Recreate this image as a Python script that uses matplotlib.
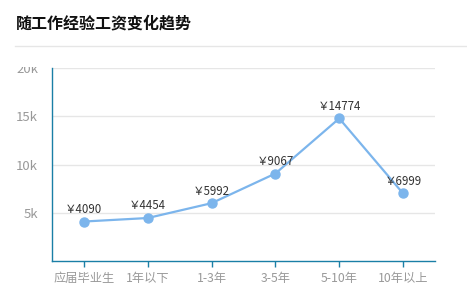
import matplotlib
matplotlib.use('Agg')
import matplotlib.pyplot as plt
from matplotlib.patches import Rectangle
from matplotlib.lines import Line2D

plt.rcParams['font.family'] = ['Noto Sans CJK SC', 'DejaVu Sans']

categories = ['应届毕业生', '1年以下', '1-3年', '3-5年', '5-10年', '10年以上']
salaries = [4090, 4454, 5992, 9067, 14774, 6999]
yticks = [5000, 10000, 15000, 20000]
ytick_labels = ['5k', '10k', '15k', '20k']

line_color = '#7cb5ec'
axis_color = '#1a7fa6'
grid_color = '#e6e6e6'
tick_label_color = '#999999'

fig = plt.figure(figsize=(4.67, 2.9), dpi=100)
ax = fig.add_axes([52 / 467, 29 / 290, 383 / 467, 193 / 290])

x = list(range(len(categories)))
ax.plot(x, salaries, color=line_color, linewidth=1.6, marker='o', markersize=6.5, zorder=3)

for xi, v in zip(x, salaries):
    ax.annotate('￥' + str(v), (xi, v), xytext=(0, 4), textcoords='offset points',
                ha='center', va='bottom', fontsize=8.3, color='#333333', zorder=4)

ax.set_xlim(-0.5, len(categories) - 0.5)
ax.set_ylim(0, 20000)
ax.set_xticks(x)
ax.set_xticklabels(categories)
ax.set_yticks(yticks)
ax.set_yticklabels(ytick_labels)

ax.grid(axis='y', color=grid_color, linewidth=1)
ax.set_axisbelow(True)
for s in ['top', 'right']:
    ax.spines[s].set_visible(False)
ax.spines['left'].set_color(axis_color)
ax.spines['bottom'].set_color(axis_color)
ax.spines['left'].set_linewidth(1)
ax.spines['bottom'].set_linewidth(1)

ax.tick_params(axis='x', colors=axis_color, length=4, width=1, labelcolor=tick_label_color,
               labelsize=8.8, pad=4)
ax.tick_params(axis='y', length=0, labelcolor=tick_label_color, labelsize=9.5, pad=10)

# title and separator
fig.text(16 / 467, 1 - 23 / 290, '随工作经验工资变化趋势', fontsize=11.5, fontweight='bold',
         color='#111111', ha='left', va='center')
fig.add_artist(Line2D([15 / 467, 1], [1 - 46 / 290, 1 - 46 / 290], color='#e6e6e6', linewidth=1))

# the top tick label is cut off in the original
fig.add_artist(Rectangle((0, 1 - 67 / 290), 50 / 467, 14 / 290, transform=fig.transFigure,
                         facecolor='white', edgecolor='none', zorder=10))

fig.savefig('out.png', dpi=100)
